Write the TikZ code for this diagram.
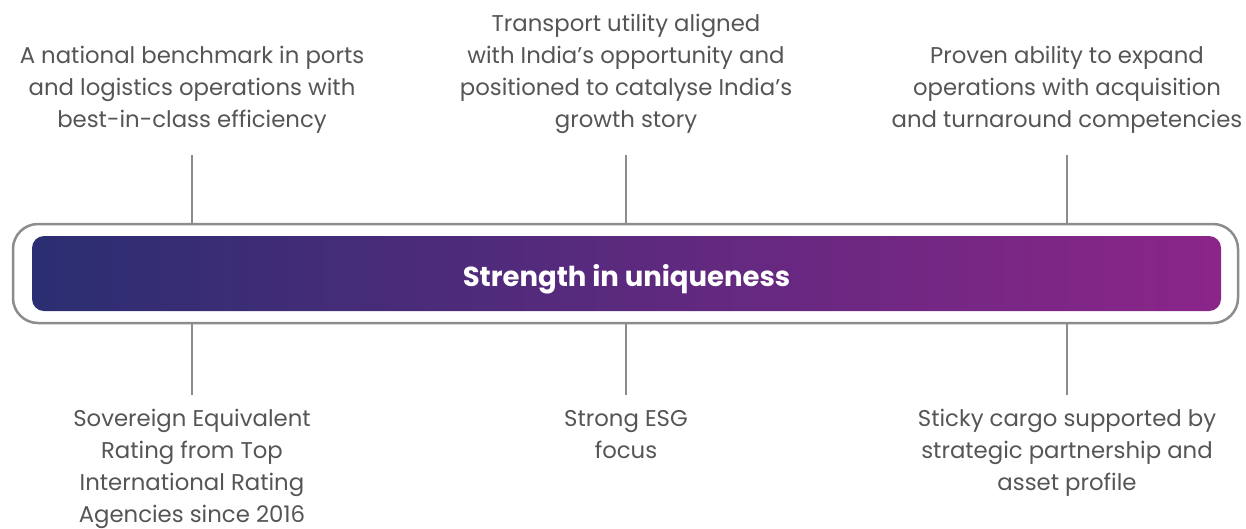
\documentclass[tikz,border=0pt]{standalone}
\usepackage{fontspec}
\setmainfont{Poppins}
\begin{document}
\definecolor{txtgray}{RGB}{85,85,85}
\definecolor{linegray}{RGB}{140,140,140}
\definecolor{barleft}{RGB}{43,46,114}
\definecolor{barright}{RGB}{139,37,137}
\begin{tikzpicture}[x=1pt,y=-1pt,
  label/.style={align=center, text=txtgray, anchor=base, inner sep=0pt,
    font=\fontsize{22.8}{32}\selectfont},
  link/.style={draw=linegray, line width=2.5pt}]
\useasboundingbox (0,0) rectangle (1246,528);
% outer frame and gradient bar
\node[draw=linegray, line width=2.5pt, rounded corners=25pt,
  minimum width=1225pt, minimum height=99pt, inner sep=0pt] (frame) at (625.5,273.5) {};
\node[rounded corners=12pt, left color=barleft, right color=barright,
  minimum width=1189pt, minimum height=75pt, inner sep=0pt, text=white,
  text height=25pt, text depth=0pt,
  font=\fontsize{27.5}{30}\selectfont\bfseries] (bar) at (626.5,273.5)
  {Strength in uniqueness};
% upper labels (anchored at the baseline of the last line)
\node[label] (t1) at (192,127) {A national benchmark in ports\\and logistics operations with\\best-in-class efficiency};
\node[label] (t2) at (626,127) {Transport utility aligned\\with India’s opportunity and\\positioned to catalyse India’s\\growth story};
\node[label] (t3) at (1067,127) {Proven ability to expand\\operations with acquisition\\and turnaround competencies};
% lower labels
\node[label] (b1) at (192,522) {Sovereign Equivalent\\Rating from Top\\International Rating\\Agencies since 2016};
\node[label] (b2) at (626,458) {Strong ESG\\focus};
\node[label] (b3) at (1067,490) {Sticky cargo supported by\\strategic partnership and\\asset profile};
% connector ends
\coordinate (t1e) at (192,155);
\coordinate (t2e) at (626,155);
\coordinate (t3e) at (1067,155);
\coordinate (b1e) at (192,395);
\coordinate (b2e) at (626,395);
\coordinate (b3e) at (1067,395);
\draw[link] (t1e) -- (t1e |- frame.north);
\draw[link] (t2e) -- (t2e |- frame.north);
\draw[link] (t3e) -- (t3e |- frame.north);
\draw[link] (b1e) -- (b1e |- frame.south);
\draw[link] (b2e) -- (b2e |- frame.south);
\draw[link] (b3e) -- (b3e |- frame.south);
\end{tikzpicture}
\end{document}
